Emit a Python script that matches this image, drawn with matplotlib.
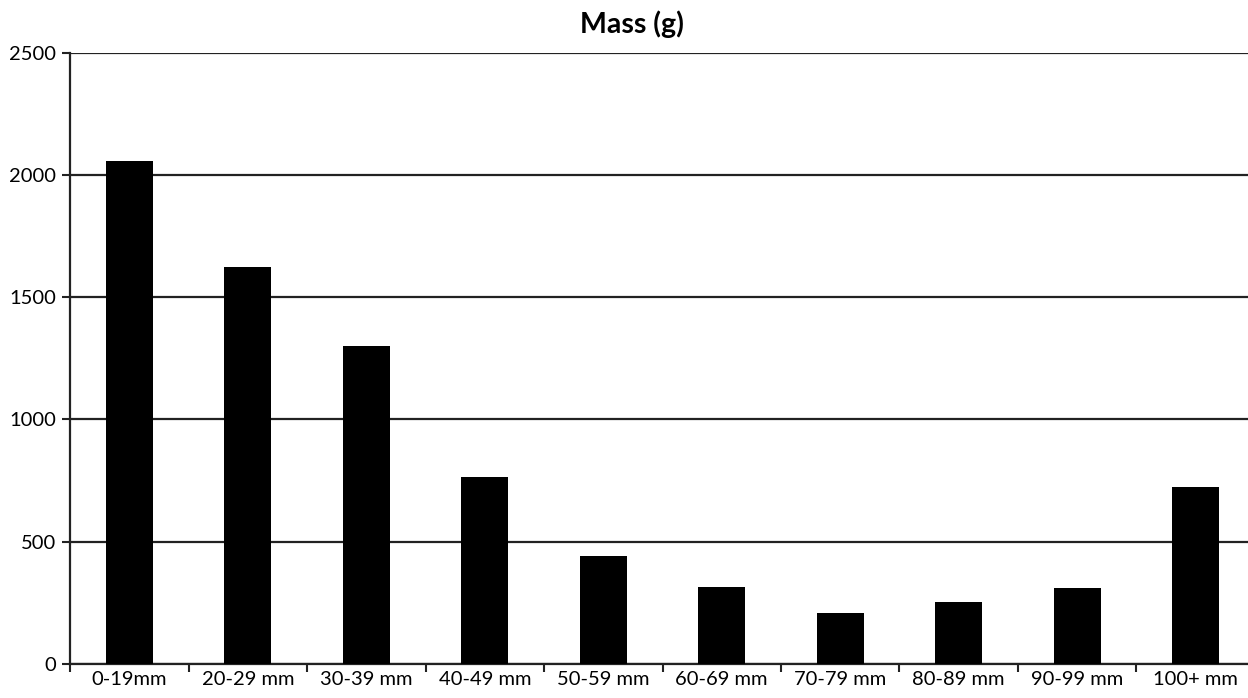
import numpy as np
import matplotlib
matplotlib.use("Agg")
import matplotlib.pyplot as plt

plt.rcParams['font.family'] = ['Lato', 'DejaVu Sans']

categories = ["0-19mm", "20-29 mm", "30-39 mm", "40-49 mm", "50-59 mm",
              "60-69 mm", "70-79 mm", "80-89 mm", "90-99 mm", "100+ mm"]
mass = [2056, 1624, 1300, 766, 441, 315, 210, 255, 312, 722]
yticks = [0, 500, 1000, 1500, 2000, 2500]

fig = plt.figure(figsize=(12.48, 6.98), dpi=100)
# l'axe de droite dépasse un peu de l'image, comme sur l'original
ax = fig.add_axes([0.0561, 0.0487, 0.9495, 0.8758])

x = np.arange(len(categories))
ax.bar(x, mass, width=0.4, color="black", zorder=3)

ax.set_xlim(-0.5, len(categories) - 0.5)
ax.set_ylim(0, 2500)
ax.set_yticks(yticks)
ax.set_yticklabels([str(v) for v in yticks], fontsize=14.5)
ax.yaxis.grid(True, color="#222222", linewidth=1.6, zorder=1)

# ticks aux frontières des catégories, labels au centre
ax.set_xticks(x - 0.5, minor=False)
ax.set_xticklabels([])
ax.set_xticks(x, minor=True)
ax.set_xticklabels(categories, minor=True, fontsize=14.5)
ax.tick_params(axis="x", which="minor", length=0, pad=5)
ax.tick_params(axis="x", which="major", length=6, width=1.5, color="#222222")
ax.tick_params(axis="y", length=6, width=1.5, color="#222222", pad=4)

for s in ["top", "right"]:
    ax.spines[s].set_visible(False)
ax.spines["left"].set_linewidth(1.6)
ax.spines["bottom"].set_linewidth(1.6)
ax.spines["left"].set_color("#222222")
ax.spines["bottom"].set_color("#222222")

fig.text(0.506, 0.966, "Mass (g)", ha="center", va="center",
         fontsize=20.5, fontweight="bold")

fig.savefig("out.png", dpi=100)
